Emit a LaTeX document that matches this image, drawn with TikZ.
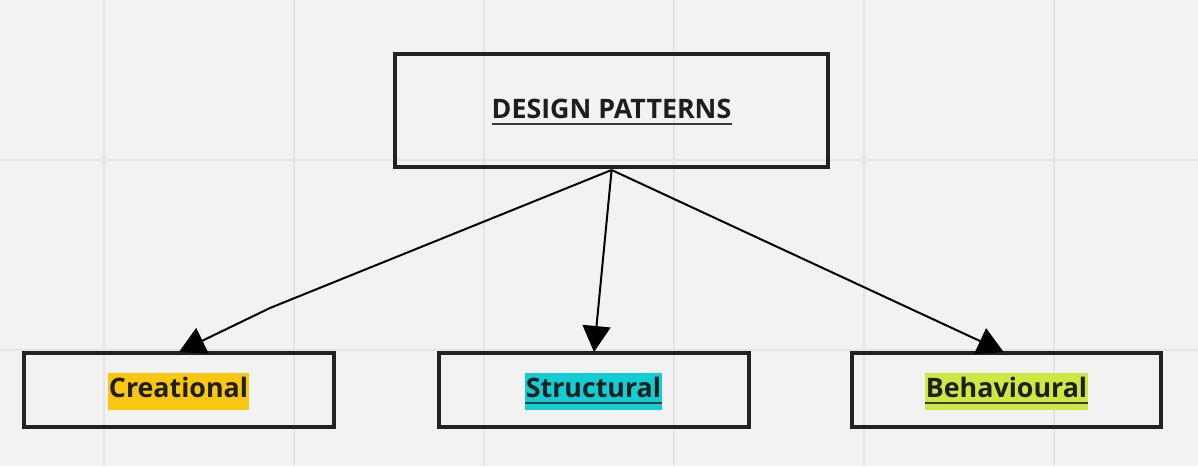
\documentclass[tikz,border=0pt]{standalone}
\usepackage{fontspec}
\setmainfont{Open Sans}
\usetikzlibrary{arrows.meta}
\definecolor{bg}{HTML}{F2F2F2}
\definecolor{gridc}{HTML}{E4E4E4}
\definecolor{boxc}{HTML}{222222}
\definecolor{txtc}{HTML}{1E1E1E}
\definecolor{ulc}{HTML}{3A3A3A}
\definecolor{hlyellow}{HTML}{FAC710}
\definecolor{hlcyan}{HTML}{12CDD4}
\definecolor{hllime}{HTML}{CEE741}
\tikzset{
  gridline/.style={draw=gridc, line width=2pt},
  catbox/.style={draw=boxc, line width=4pt, rectangle, inner sep=0pt},
  label/.style={font=\fontsize{26.8}{31}\selectfont\bfseries, text=txtc, inner sep=0pt, anchor=base},
  hl/.style={label, inner xsep=1pt, inner ysep=0pt, text height=24.5pt, text depth=12.5pt},
  uline/.style={draw=ulc, line width=2.4pt},
  conn/.style={draw=black, line width=2pt, -{Triangle[length=26pt,width=28pt]}}
}
\begin{document}
\begin{tikzpicture}[x=1pt,y=-1pt]
\fill[bg] (0,0) rectangle (1198,466);
\useasboundingbox (0,0) rectangle (1198,466);
\foreach \gx in {103.5,293.5,483.5,673.5,863.5,1053.5}{
  \draw[gridline] (\gx,0) -- (\gx,466);
}
\foreach \gy in {160,350}{
  \draw[gridline] (0,\gy) -- (1198,\gy);
}
% boxes
\node[catbox, minimum width=432.7pt, minimum height=113.3pt] (top) at (611.6,110.35) {};
\node[catbox, minimum width=309.4pt, minimum height=74.3pt] (cre) at (179,390.15) {};
\node[catbox, minimum width=309.4pt, minimum height=74.3pt] (str) at (594,390.15) {};
\node[catbox, minimum width=309.3pt, minimum height=74.3pt] (beh) at (1006.65,390.15) {};
% texts
\node[label] (ttop) at (611.5,118) {DESIGN PATTERNS};
\draw[uline] ([yshift=-6pt]ttop.base west) -- ([yshift=-6pt]ttop.base east);
\node[hl, fill=hlyellow] (tcre) at (178.5,397) {Creational};
\node[hl, fill=hlcyan] (tstr) at (593.5,397) {Structural};
\draw[uline] ([yshift=-6pt]tstr.base west) -- ([yshift=-6pt]tstr.base east);
\node[hl, fill=hllime] (tbeh) at (1006.5,397) {Behavioural};
\draw[uline] ([yshift=-6pt]tbeh.base west) -- ([yshift=-6pt]tbeh.base east);
% connectors
\coordinate (bend) at (270,308);
\coordinate (src) at ([yshift=-1pt]top.south);
\draw[conn] (src) -- (bend) -- ([yshift=-1pt]cre.north);
\draw[conn] (src) -- ([yshift=-1pt]str.north);
\draw[conn] (src) -- ([xshift=-3pt,yshift=-1pt]beh.north);
\end{tikzpicture}
\end{document}
